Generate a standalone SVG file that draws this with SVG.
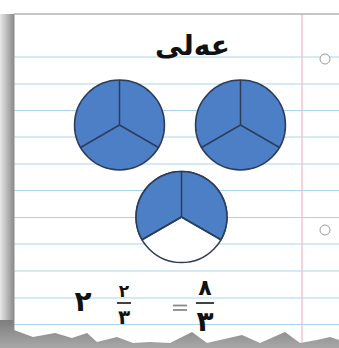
<svg xmlns="http://www.w3.org/2000/svg" width="339" height="348" viewBox="0 0 339 348">
<defs>
<linearGradient id="lshadow" x1="0" y1="0" x2="1" y2="0">
<stop offset="0" stop-color="#e8e8e8"/>
<stop offset="1" stop-color="#8a8a8a"/>
</linearGradient>
<linearGradient id="bshadow" x1="0" y1="0" x2="0" y2="1">
<stop offset="0" stop-color="#7d7d7d"/>
<stop offset="1" stop-color="#a8a8a8"/>
</linearGradient>
</defs>
<style>
.rule{stroke:#a9d6ec;stroke-width:1.2}
.pie{fill:#4d7fc6;stroke:#2b3d5a;stroke-width:1.5}
.div{stroke:#2b3d5a;stroke-width:1.5;fill:none}
.num{font-family:"DejaVu Sans",sans-serif;font-weight:bold;fill:#111;text-anchor:middle}
.bar{stroke:#111;stroke-width:1.6}
</style>
<rect x="0" y="0" width="339" height="348" fill="#ffffff"/>
<rect x="0" y="14" width="14" height="334" fill="url(#lshadow)"/>
<rect x="0" y="320" width="339" height="28" fill="url(#bshadow)"/>
<path d="M14,14 H339 V340 L330,337 L317,340 L300,343 L285,332 L260,343 L242,335 L207,343 L192,332 L170,343 L150,342 L133,343 L117,337 L97,342 L87,333 L72,338 L55,333 L33,337 L14,330 Z" fill="#ffffff"/>
<g id="ruling">
<line class="rule" x1="14" y1="57" x2="339" y2="57"/>
<line class="rule" x1="14" y1="84" x2="339" y2="84"/>
<line class="rule" x1="14" y1="110.5" x2="339" y2="110.5"/>
<line class="rule" x1="14" y1="137" x2="339" y2="137"/>
<line class="rule" x1="14" y1="164" x2="339" y2="164"/>
<line class="rule" x1="14" y1="190.5" x2="339" y2="190.5"/>
<line class="rule" x1="14" y1="217.5" x2="339" y2="217.5"/>
<line class="rule" x1="14" y1="244" x2="339" y2="244"/>
<line class="rule" x1="14" y1="271" x2="339" y2="271"/>
<line class="rule" x1="14" y1="298" x2="339" y2="298"/>
<line class="rule" x1="14" y1="324.5" x2="339" y2="324.5"/>
<line x1="302" y1="14" x2="302" y2="343" stroke="#f3b6c6" stroke-width="1.2"/>
<line x1="14" y1="14" x2="339" y2="14" stroke="#8e8e8e" stroke-width="1.2"/>
<line x1="14" y1="14" x2="14" y2="330" stroke="#8e8e8e" stroke-width="1"/>
<circle cx="325" cy="59" r="5" fill="#fff" stroke="#9a9a9a" stroke-width="1"/>
<circle cx="325" cy="230" r="5" fill="#fff" stroke="#9a9a9a" stroke-width="1"/>
</g>
<g id="title">
<text x="192.5" y="55" font-family="DejaVu Sans,sans-serif" font-weight="bold" font-size="28" text-anchor="middle" fill="#111">عەلی</text>
</g>
<g id="pie1">
<circle class="pie" cx="119.5" cy="125" r="45"/>
<path class="div" d="M119.5,80 V125 L80.5,147.5 M119.5,125 L158.5,147.5"/>
</g>
<g id="pie2">
<circle class="pie" cx="240.5" cy="125" r="45"/>
<path class="div" d="M240.5,80 V125 L201.5,147.5 M240.5,125 L279.5,147.5"/>
</g>
<g id="pie3">
<circle cx="181.5" cy="217" r="45.5" fill="#ffffff" stroke="#2b3d5a" stroke-width="1.5"/>
<path class="pie" d="M181.5,217 L142.1,239.75 A45.5,45.5 0 0 1 181.5,171.5 A45.5,45.5 0 0 1 220.9,239.75 Z"/>
<path class="div" d="M181.5,171.5 V217 L142.1,239.75 M181.5,217 L220.9,239.75"/>
</g>
<g id="equation">
<text class="num" x="83" y="311" font-size="28">٢</text>
<text class="num" x="124" y="297" font-size="17">٢</text>
<line class="bar" x1="117" y1="303" x2="131" y2="303"/>
<text class="num" x="124" y="324" font-size="20">٣</text>
<line x1="173" y1="305.5" x2="187" y2="305.5" stroke="#888" stroke-width="1.8"/>
<line x1="173" y1="310" x2="187" y2="310" stroke="#888" stroke-width="1.8"/>
<text class="num" x="205" y="295" font-size="22">٨</text>
<line class="bar" x1="196" y1="303" x2="214" y2="303"/>
<text class="num" x="205" y="331" font-size="28">٣</text>
</g>
</svg>
